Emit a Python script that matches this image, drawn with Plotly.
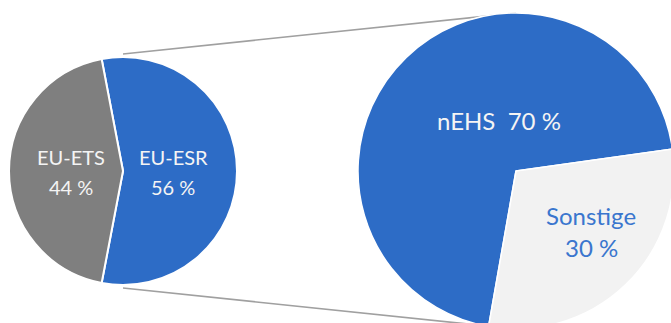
import plotly.graph_objects as go

# ---- data ----
left_labels = ["EU-ESR", "EU-ETS"]
left_values = [56, 44]
right_labels = ["nEHS", "Sonstige"]
right_values = [70, 30]

BLUE = "#2D6CC6"
GRAY = "#7F7F7F"
LIGHT = "#F2F2F2"
TXT_BLUE = "#3A76CE"

# ---- geometry (pixels) ----
W, H = 700, 345
cxL, cyL, rL = 123, 171, 114
cxR, cyR, rR = 516, 171, 158


def px(x):
    return x / W


def py(y):
    return 1 - y / H


def dom(cx, cy, r):
    return dict(x=[px(cx - r), px(cx + r)], y=[py(cy + r), py(cy - r)])


esr_deg = left_values[0] / sum(left_values) * 360
left_rot = -(esr_deg - 180) / 2

fig = go.Figure()
fig.add_trace(go.Pie(
    labels=left_labels, values=left_values, sort=False, direction="clockwise",
    rotation=left_rot, domain=dom(cxL, cyL, rL), textinfo="none",
    marker=dict(colors=[BLUE, GRAY], line=dict(color="white", width=2)),
    hoverinfo="label+percent", showlegend=False,
))
fig.add_trace(go.Pie(
    labels=right_labels, values=right_values, sort=False, direction="clockwise",
    rotation=190, domain=dom(cxR, cyR, rR), textinfo="none",
    marker=dict(colors=[BLUE, LIGHT], line=dict(color="white", width=1.5)),
    hoverinfo="label+percent", showlegend=False,
))

# connector lines
for (x0, y0, x1, y1) in [(cxL, cyL - rL - 3, cxR, cyR - rR),
                         (cxL, cyL + rL + 3, cxR, cyR + rR)]:
    fig.add_shape(type="line", xref="paper", yref="paper", layer="below",
                  x0=px(x0), y0=py(y0), x1=px(x1), y1=py(y1),
                  line=dict(color="#A0A0A0", width=1.5))

FONT = "Lato"
WHITE_T = "#F4F4F4"
ann = [
    (71, 157, left_labels[1], WHITE_T, 20),
    (71, 187, f"{left_values[1]} %", WHITE_T, 20),
    (173, 157, left_labels[0], WHITE_T, 20),
    (173, 187, f"{left_values[0]} %", WHITE_T, 20),
    (499, 120, f"{right_labels[0]}\u00a0\u00a0{right_values[0]} %", WHITE_T, 24),
    (591, 215, right_labels[1], TXT_BLUE, 24),
    (591, 247, f"{right_values[1]} %", TXT_BLUE, 24),
]
for x, y, t, c, s in ann:
    fig.add_annotation(x=px(x), y=py(y), xref="paper", yref="paper", text=t,
                       showarrow=False, xanchor="center", yanchor="middle",
                       font=dict(family=FONT, size=s, color=c))

fig.update_layout(width=W, height=H, margin=dict(l=0, r=0, t=0, b=0),
                  paper_bgcolor="white", plot_bgcolor="white")

fig.write_html("out.html", post_script=(
    "document.body.style.margin='0';document.body.style.overflow='hidden';"
    "document.documentElement.style.overflow='hidden';"))
